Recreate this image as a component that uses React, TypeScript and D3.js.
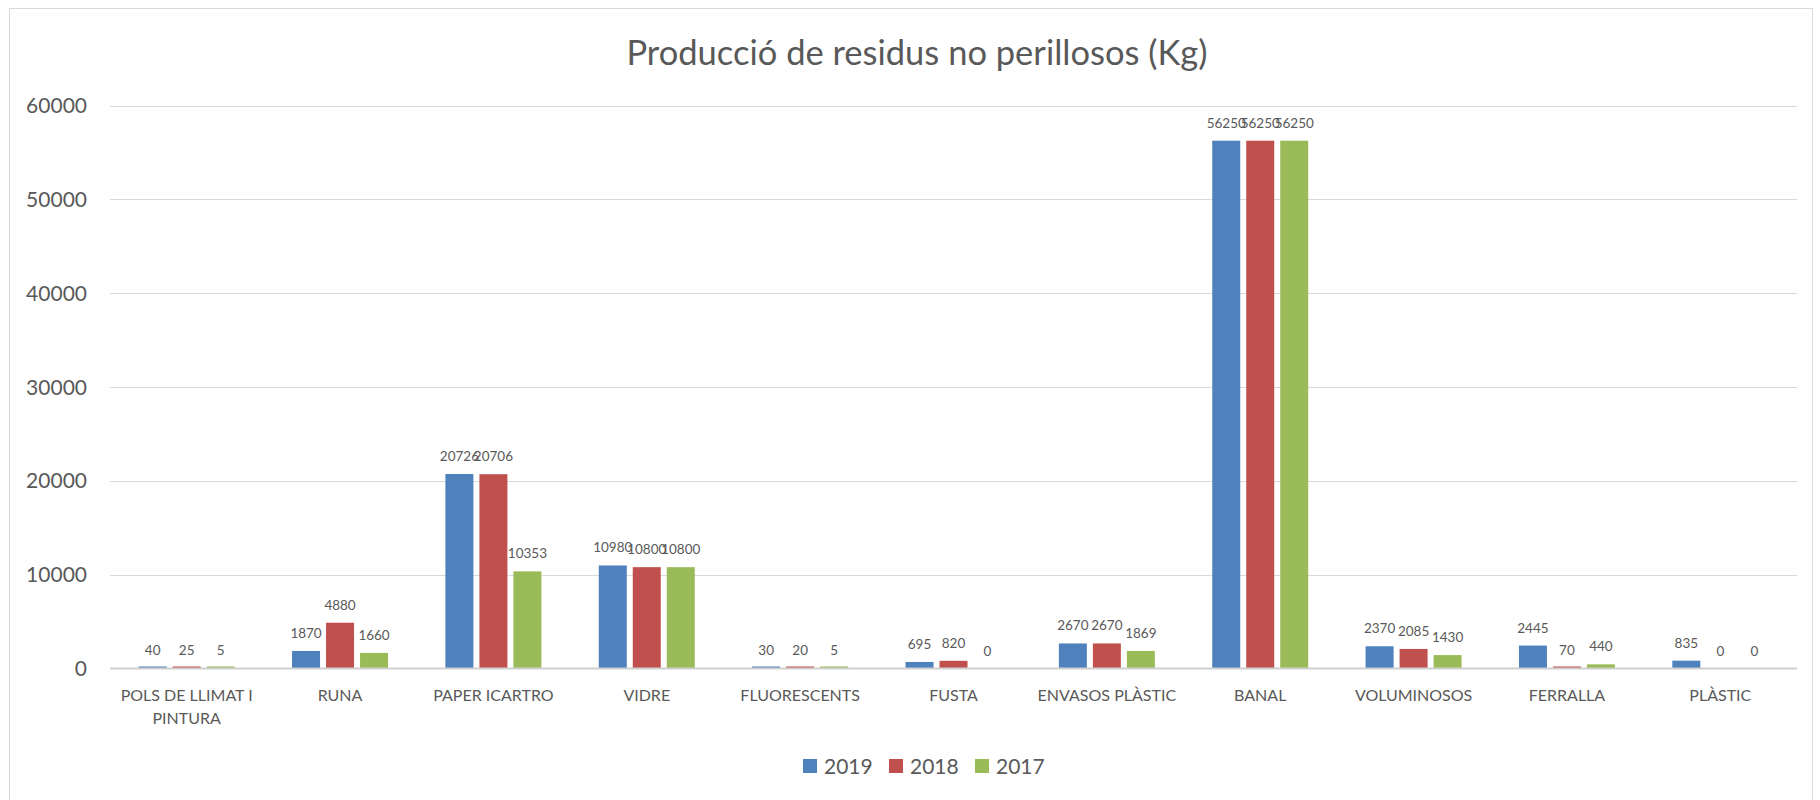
import { useEffect, useRef } from 'react';
import * as d3 from 'd3';

const categories = [
  'POLS DE LLIMAT I PINTURA', 'RUNA', 'PAPER ICARTRO', 'VIDRE', 'FLUORESCENTS', 'FUSTA',
  'ENVASOS PLÀSTIC', 'BANAL', 'VOLUMINOSOS', 'FERRALLA', 'PLÀSTIC'
];
const years = ['2019', '2018', '2017'];
const values2019 = [40, 1870, 20726, 10980, 30, 695, 2670, 56250, 2370, 2445, 835];
const values2018 = [25, 4880, 20706, 10800, 20, 820, 2670, 56250, 2085, 70, 0];
const values2017 = [5, 1660, 10353, 10800, 5, 0, 1869, 56250, 1430, 440, 0];
const yTicks = [0, 10000, 20000, 30000, 40000, 50000, 60000];
const colors = ['#4F81BD', '#C0504D', '#9BBB59'];

const title = 'Producció de residus no perillosos (Kg)';
const FONT = 'Lato, "Open Sans", sans-serif';
const TEXT = '#595959';

const W = 1820;
const H = 800;

export default function App() {
  const svgRef = useRef<SVGSVGElement>(null);

  useEffect(() => {
    if (!svgRef.current) return;
    const svg = d3.select(svgRef.current);
    svg.selectAll('*').remove();

    const left = 110, right = 1797, top = 105.5, bottom = 668.5;
    const series = [values2019, values2018, values2017];

    // outer chart border
    svg.append('rect')
      .attr('x', 9.5).attr('y', 8.5)
      .attr('width', 1803).attr('height', 800)
      .attr('fill', '#fff').attr('stroke', '#D9D9D9');

    svg.append('text')
      .attr('x', 917).attr('y', 65)
      .attr('text-anchor', 'middle')
      .attr('font-family', FONT).attr('font-size', 34.5)
      .attr('fill', TEXT)
      .text(title);

    const x = d3.scaleBand().domain(categories).range([left, right]);
    const y = d3.scaleLinear().domain([0, 60000]).range([bottom, top]);
    const groupW = 96;
    const x1 = d3.scaleBand().domain(years).range([0, groupW]).paddingInner(6 / 34);

    // gridlines + y labels
    svg.append('g').selectAll('line')
      .data(yTicks.filter(d => d > 0))
      .enter().append('line')
      .attr('x1', left).attr('x2', right)
      .attr('y1', d => Math.round(y(d)) + 0.5).attr('y2', d => Math.round(y(d)) + 0.5)
      .attr('stroke', '#D9D9D9').attr('stroke-width', 1);

    svg.append('g').selectAll('text')
      .data(yTicks)
      .enter().append('text')
      .attr('x', 87).attr('y', d => y(d) + 7.5)
      .attr('text-anchor', 'end')
      .attr('font-family', FONT).attr('font-size', 21)
      .attr('fill', TEXT)
      .text(d => String(d));

    // bars
    const bars = svg.append('g');
    series.forEach((vals, si) => {
      bars.selectAll(`rect.s${si}`)
        .data(vals)
        .enter().append('rect')
        .attr('class', `s${si}`)
        .attr('x', (_, i) => (x(categories[i]) as number) + x.bandwidth() / 2 - groupW / 2 + (x1(years[si]) as number))
        .attr('width', x1.bandwidth())
        .attr('y', d => {
          const h = Math.max(y(0) - y(d), d > 0 ? 2 : 0);
          return y(0) - h;
        })
        .attr('height', d => Math.max(y(0) - y(d), d > 0 ? 2 : 0))
        .attr('fill', colors[si]);
    });

    // axis line
    svg.append('line')
      .attr('x1', left).attr('x2', right)
      .attr('y1', bottom).attr('y2', bottom)
      .attr('stroke', '#D0D0D0').attr('stroke-width', 2);

    // data labels
    const labels = svg.append('g');
    series.forEach((vals, si) => {
      labels.selectAll(`text.s${si}`)
        .data(vals)
        .enter().append('text')
        .attr('class', `s${si}`)
        .attr('x', (_, i) => (x(categories[i]) as number) + x.bandwidth() / 2 - groupW / 2 + (x1(years[si]) as number) + x1.bandwidth() / 2)
        .attr('y', d => y(d) - 13)
        .attr('text-anchor', 'middle')
        .attr('font-family', FONT).attr('font-size', 13.5)
        .attr('fill', TEXT)
        .text(d => String(d));
    });

    // category labels, wrapped to band width
    const catText = svg.append('g').selectAll('text')
      .data(categories)
      .enter().append('text')
      .attr('x', d => (x(d) as number) + x.bandwidth() / 2)
      .attr('y', 701)
      .attr('text-anchor', 'middle')
      .attr('font-family', FONT).attr('font-size', 16)
      .attr('fill', TEXT);

    catText.each(function (d) {
      const el = d3.select(this);
      const words = d.split(' ');
      const cx = +el.attr('x');
      let line: string[] = [];
      let tspan = el.append('tspan').attr('x', cx).attr('dy', 0);
      words.forEach(w => {
        line.push(w);
        tspan.text(line.join(' '));
        if ((tspan.node() as SVGTSpanElement).getComputedTextLength() > x.bandwidth() && line.length > 1) {
          line.pop();
          tspan.text(line.join(' '));
          line = [w];
          tspan = el.append('tspan').attr('x', cx).attr('dy', 22.5).text(w);
        }
      });
    });

    // legend
    const legend = svg.append('g');
    years.forEach((yr, i) => {
      const lx = 803 + i * 86;
      legend.append('rect')
        .attr('x', lx).attr('y', 759)
        .attr('width', 14).attr('height', 14)
        .attr('fill', colors[i]);
      legend.append('text')
        .attr('x', lx + 21).attr('y', 774)
        .attr('font-family', FONT).attr('font-size', 21)
        .attr('fill', TEXT)
        .text(yr);
    });
  }, []);

  return (
    <div style={{ position: 'absolute', left: 0, top: 0, width: `${W}px`, height: `${H}px` }}>
      <svg ref={svgRef} width={W} height={H}></svg>
    </div>
  );
}
